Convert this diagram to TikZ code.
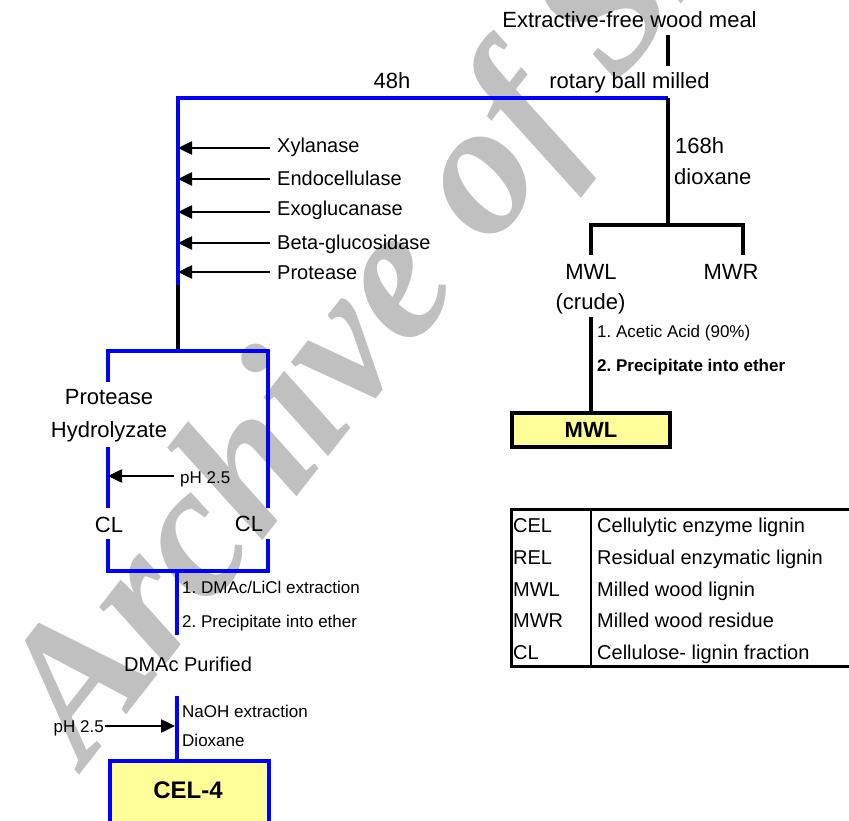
\documentclass[tikz,border=0pt]{standalone}
\usepackage{fontspec}
\setmainfont{Liberation Sans}
\newfontfamily\wmfont{Liberation Serif}
\usetikzlibrary{arrows.meta}
\definecolor{boxyellow}{HTML}{FFFF99}
\definecolor{wmgray}{HTML}{C0C0C0}
\definecolor{lineblue}{HTML}{0000FF}
\frenchspacing
\begin{document}
\begin{tikzpicture}[x=1pt,y=-1pt,
  lbig/.style={font=\fontsize{22}{26}\selectfont, inner sep=0pt, text height=15.8pt, text depth=0pt},
  lmed/.style={font=\fontsize{20}{24}\selectfont, inner sep=0pt, text height=14.3pt, text depth=0pt},
  lsmall/.style={font=\fontsize{17}{20}\selectfont, inner sep=0pt, text height=12.2pt, text depth=0pt},
  bluew/.style={draw=lineblue, line width=4pt},
  blackw/.style={draw=black, line width=4pt},
  enz/.style={-{Triangle[length=14pt,width=13pt]}, line width=2.5pt},
  tabline/.style={draw=black, line width=3pt},
]
\useasboundingbox (0,0) rectangle (849,821);
\begin{scope}
\clip (0,0) rectangle (849,821);
% watermark
\node[font=\wmfont\bfseries\itshape\fontsize{190}{190}\selectfont, text=wmgray, rotate=52, anchor=base west, inner sep=0pt] (wm) at (85,768) {Archive of SID};

% ---- top
\node[lbig] (wood) at (629.5,20) {Extractive-free wood meal};
\node[lbig] (rbm) at (629.5,81) {rotary ball milled};
\node[lbig] (h48) at (392,81) {48h};
\coordinate (w1) at (668,35);
\coordinate (w2) at (668,66);
\draw[blackw] (w1) -- (w2);
\coordinate (tl) at (178,98);
\coordinate (tr) at (668,98);
\coordinate (lb) at (178,285);
\coordinate (lc) at (178,351);
\draw[bluew, line join=miter] (lb) -- (tl) -- (tr);
\draw[blackw] (lb) -- (lc);

% ---- right branch
\coordinate (sp) at (668,225);
\coordinate (spl) at (591,225);
\coordinate (spr) at (743,225);
\coordinate (spl2) at (591,255);
\coordinate (spr2) at (743,255);
\draw[blackw] (tr) -- (sp);
\draw[blackw] (spl2) -- (spl) -- (spr) -- (spr2);
\node[lbig, anchor=west] (h168) at (675,146) {168h};
\node[lbig, anchor=west] (diox) at (674,177) {dioxane};
\node[lbig] (mwlc) at (591,272) {MWL};
\node[lbig] (crude) at (590.5,302) {(crude)};
\node[lbig] (mwr) at (731,272) {MWR};
\node[draw=black, line width=4pt, fill=boxyellow, minimum width=158pt, minimum height=34pt, inner sep=0pt,
      font=\fontsize{22}{26}\selectfont\bfseries] (mwlbox) at (591,430) {MWL};
\coordinate (c1) at (591,317);
\draw[blackw] (c1) -- (mwlbox.north);
\node[lsmall, anchor=west] (acet) at (597,331) {1. Acetic Acid (90\%)};
\node[lsmall, anchor=west, font=\fontsize{17}{20}\selectfont\bfseries] (prec1) at (597,365) {2. Precipitate into ether};

% ---- enzymes
\foreach \nm/\ty/\ay/\txt in {xyl/145/148/Xylanase, endo/178/179/Endocellulase, exo/208/212/Exoglucanase, beta/242/243/Beta-glucosidase, prot/272/272/Protease}{
  \node[lmed, anchor=west] (\nm) at (277,\ty) {\txt};
  \coordinate (\nm s) at (270,\ay);
  \coordinate (\nm e) at (178,\ay);
  \draw[enz] (\nm s) -- (\nm e);
}

% ---- hydrolyzate box
\coordinate (b1) at (108,382);
\coordinate (b2) at (108,351);
\coordinate (b3) at (268,351);
\coordinate (b4) at (268,508);
\coordinate (b5) at (108,447);
\coordinate (b6) at (108,508);
\coordinate (b7) at (108,539);
\coordinate (b8) at (108,571);
\coordinate (b9) at (268,571);
\coordinate (b10) at (268,539);
\draw[bluew, line join=miter] (b1) -- (b2) -- (b3) -- (b4);
\draw[bluew] (b5) -- (b6);
\draw[bluew, line join=miter] (b7) -- (b8) -- (b9) -- (b10);
\node[lbig] (prot2) at (109,397) {Protease};
\node[lbig] (hydro) at (109,430) {Hydrolyzate};
\coordinate (ph1s) at (174,476);
\coordinate (ph1e) at (108,476);
\draw[enz] (ph1s) -- (ph1e);
\node[lsmall, anchor=west] (ph1) at (180,477) {pH 2.5};
\node[lbig] (cl1) at (109,525) {CL};
\node[lbig] (cl2) at (249,524) {CL};

% ---- lower chain
\coordinate (d1) at (177,571);
\coordinate (d2) at (177,635);
\draw[bluew] (d1) -- (d2);
\node[lsmall, anchor=west] (dmac) at (182,587) {1. DMAc/LiCl extraction};
\node[lsmall, anchor=west] (prec2) at (182,621) {2. Precipitate into ether};
\node[lmed] (dmacp) at (188,664) {DMAc Purified};
\node[draw=lineblue, line width=4pt, fill=boxyellow, minimum width=159pt, minimum height=90pt, inner sep=0pt,
      anchor=north west] (celbox) at (108,759) {};
\node[font=\fontsize{24}{28}\selectfont\bfseries, inner sep=0pt, text height=17.2pt, text depth=0pt] (cel) at (188,790) {CEL-4};
\coordinate (e1) at (177,696);
\coordinate (e2) at (177,759);
\draw[bluew] (e1) -- (e2);
\node[lsmall, anchor=west] (naoh) at (182,711) {NaOH extraction};
\node[lsmall, anchor=west] (dio2) at (182,740) {Dioxane};
\coordinate (ph2s) at (105,726);
\coordinate (ph2e) at (175,726);
\draw[enz] (ph2s) -- (ph2e);
\node[lsmall, anchor=east] (ph2) at (104,726) {pH 2.5};

% ---- legend table
\node[tabline, minimum width=345pt, minimum height=157pt, anchor=north west, inner sep=0pt] (tab) at (510,508) {};
\coordinate (tv1) at (591,508);
\coordinate (tv2) at (591,665);
\draw[draw=black, line width=2.5pt] (tv1) -- (tv2);
\foreach \nm/\y/\ab/\ds in {r1/525/CEL/Cellulytic enzyme lignin, r2/557/REL/Residual enzymatic lignin, r3/589/MWL/Milled wood lignin, r4/620/MWR/Milled wood residue, r5/652/CL/Cellulose- lignin fraction}{
  \node[lmed, anchor=west] (\nm a) at (513,\y) {\ab};
  \node[lmed, anchor=west] (\nm b) at (597,\y) {\ds};
}
\end{scope}
\end{tikzpicture}
\end{document}
